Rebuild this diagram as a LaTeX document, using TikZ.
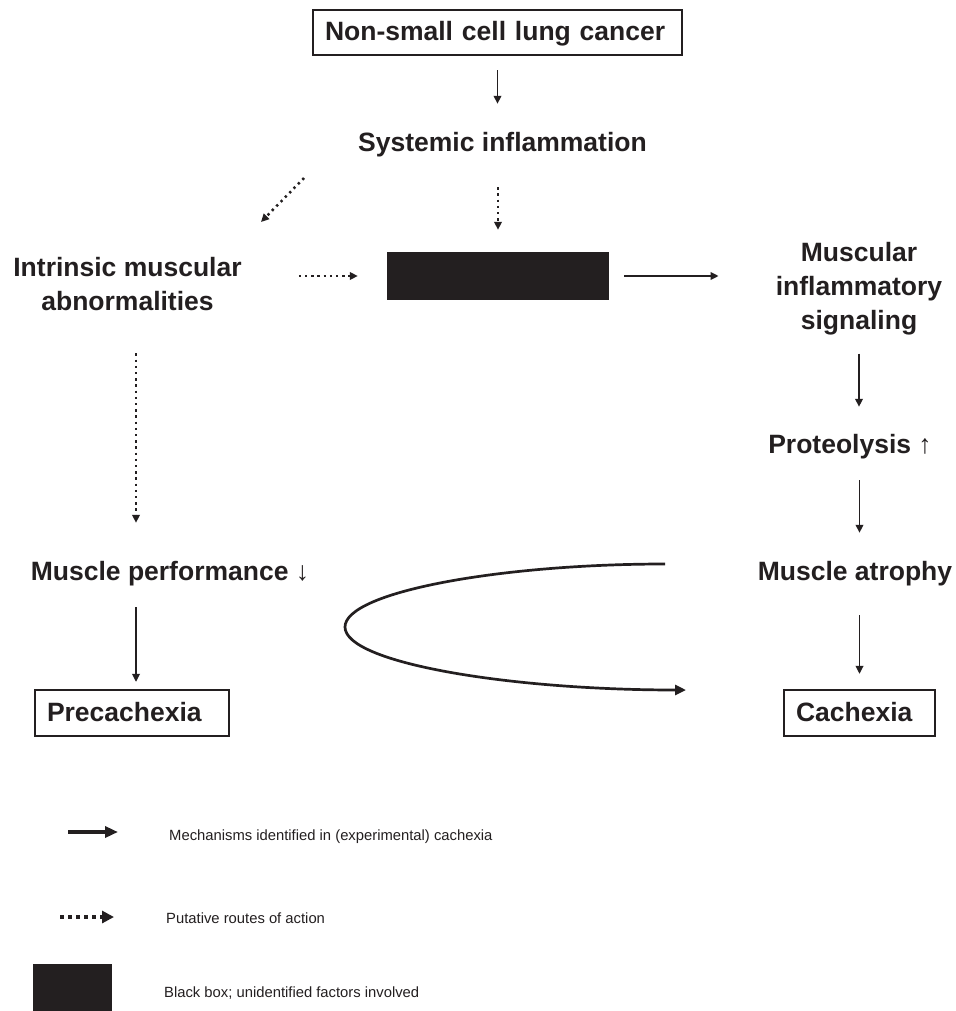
\documentclass[tikz,border=0pt]{standalone}
\usepackage{fontspec}
\setmainfont{Liberation Sans}
\usetikzlibrary{arrows.meta,calc}
\definecolor{ink}{RGB}{35,31,32}
\begin{document}
\begin{tikzpicture}[x=1pt,y=-1pt,
  bigfont/.style={font=\bfseries\fontsize{26.5}{34}\selectfont},
  lbl/.style={bigfont, text=ink, inner sep=0pt, text height=19pt, text depth=0pt},
  mlbl/.style={bigfont, text=ink, inner sep=0pt, align=center},
  boxnode/.style={bigfont, draw=ink, line width=2.2pt, text=ink, inner xsep=12pt, inner ysep=0pt,
                  align=left, text height=19pt, text depth=2pt},
  blackbox/.style={fill=ink, inner sep=0pt},
  arr/.style={draw=ink, line width=1.9pt, -{Triangle[length=8pt,width=7.5pt]}},
  dotarr/.style={arr, line width=2.5pt, dash pattern=on 2.4pt off 3.8pt},
  leg/.style={font=\fontsize{14.8}{18}\selectfont, text=ink, inner sep=0pt, anchor=base west},
 ]
\fill[white] (0,0) rectangle (955,1011);
\useasboundingbox (0,0) rectangle (955,1011);

% nodes
\node[boxnode, text width=345pt, minimum height=45pt] (top) at (497.5,32.5) {Non-small cell lung cancer};
\node[lbl, anchor=base] (sys) at (502.5,152) {Systemic inflammation};
\node[mlbl] (intr) at (127.5,284.5) {Intrinsic muscular\\abnormalities};
\node[blackbox, minimum width=222pt, minimum height=48pt] (bb) at (498,276) {};
\node[mlbl] (mus) at (859,289) {Muscular\\inflammatory\\signaling};
\node[lbl, anchor=base] (prot) at (850,453) {Proteolysis ↑};
\node[lbl, anchor=base] (atr) at (855,580) {Muscle atrophy};
\node[lbl, anchor=base] (perf) at (170,580) {Muscle performance ↓};
\node[boxnode, text width=170pt, minimum height=46pt] (pre) at (132,713) {Precachexia};
\node[boxnode, text width=127pt, minimum height=46pt] (cach) at (859.5,713) {Cachexia};

% connectors
\draw[arr, shorten <=14pt, shorten >=29pt] (top.south) -- (top.south |- sys.north);
\draw[dotarr, shorten <=35pt, shorten >=22pt] (bb.north |- sys.south) -- (bb.north);
\coordinate (d1a) at (304,178);
\coordinate (d1b) at (261,222);
\draw[dotarr] (d1a) -- (d1b);
\draw[dotarr, shorten <=57pt, shorten >=29pt] (intr.east |- bb.west) -- (bb.west);
\draw[arr, shorten <=15pt, shorten >=57pt] (bb.east) -- (bb.east -| mus.west);
\draw[arr, shorten <=18pt, shorten >=27pt] (mus.south) -- (mus.south |- prot.north);
\draw[arr, shorten <=27pt, shorten >=28pt] (cach.north |- prot.south) -- (cach.north |- atr.north);
\draw[arr, shorten <=35pt, shorten >=15pt] (cach.north |- atr.south) -- (cach.north);
\draw[dotarr, shorten <=42pt, shorten >=38pt] ($(pre.north |- intr.south)+(4,0)$) -- ($(pre.north |- perf.north)+(4,0)$);
\draw[arr, shorten <=27pt, shorten >=7pt] ($(pre.north |- perf.south)+(4,0)$) -- ($(pre.north)+(4,0)$);

% feedback curve
\coordinate (cvA) at (665,564);
\coordinate (cvB) at (686,690);
\draw[draw=ink, line width=2.7pt, -{Triangle[length=11pt,width=10pt]}]
  (cvA) .. controls (500,564) and (345,592) .. (345,627)
        .. controls (345,663) and (510,690) .. (cvB);

% legend
\coordinate (lgA1) at (68,832);
\coordinate (lgA2) at (118,832);
\draw[draw=ink, line width=4pt, -{Triangle[length=13pt,width=11pt]}] (lgA1) -- (lgA2);
\node[leg] (lt1) at (169,840) {Mechanisms identified in (experimental) cachexia};
\coordinate (lgB1) at (60,917);
\coordinate (lgB2) at (114,917);
\draw[draw=ink, line width=4pt, dash pattern=on 4pt off 4pt, -{Triangle[length=12pt,width=12pt]}] (lgB1) -- (lgB2);
\node[leg] (lt2) at (166,923) {Putative routes of action};
\node[blackbox, minimum width=79pt, minimum height=48pt] (lgbox) at (72.5,988) {};
\node[leg] (lt3) at (164,997) {Black box; unidentified factors involved};
\end{tikzpicture}
\end{document}
